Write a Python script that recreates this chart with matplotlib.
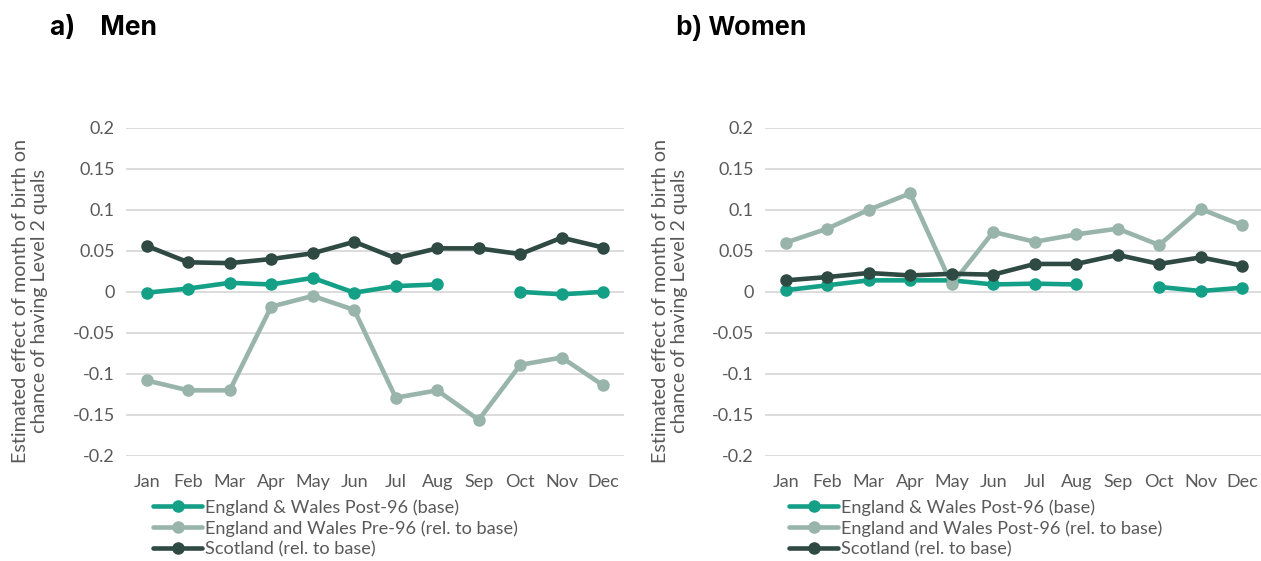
import matplotlib
matplotlib.use("Agg")
import matplotlib.pyplot as plt
import numpy as np

months = ["Jan", "Feb", "Mar", "Apr", "May", "Jun",
          "Jul", "Aug", "Sep", "Oct", "Nov", "Dec"]
yticks = [-0.2, -0.15, -0.1, -0.05, 0, 0.05, 0.1, 0.15, 0.2]
ytick_labels = ["-0.2", "-0.15", "-0.1", "-0.05", "0", "0.05", "0.1", "0.15", "0.2"]

nan = np.nan

# men
men_base = [-0.001, 0.004, 0.011, 0.009, 0.017, -0.001, 0.007, 0.009, nan, 0.0, -0.003, 0.0]
men_pre96 = [-0.108, -0.120, -0.120, -0.018, -0.005, -0.022, -0.129, -0.120, -0.156, -0.089, -0.080, -0.114]
men_scot = [0.056, 0.036, 0.035, 0.040, 0.047, 0.061, 0.041, 0.053, 0.053, 0.046, 0.066, 0.054]

# women
women_base = [0.002, 0.008, 0.014, 0.014, 0.014, 0.009, 0.010, 0.009, nan, 0.006, 0.001, 0.005]
women_post96 = [0.060, 0.077, 0.100, 0.120, 0.009, 0.073, 0.061, 0.070, 0.077, 0.057, 0.101, 0.081]
women_scot = [0.014, 0.018, 0.023, 0.020, 0.022, 0.021, 0.034, 0.034, 0.045, 0.034, 0.042, 0.032]

teal = '#13a087'
light = '#98b4ab'
dark = '#2f4a43'
txt = '#595959'
grid = '#d9d9d9'

plt.rcParams['font.family'] = ['Lato', 'DejaVu Sans']

fig = plt.figure(figsize=(12.61, 5.61), dpi=100)

ylabel = "Estimated effect of month of birth on\nchance of having Level 2 quals"


def panel(rect, series, labels, leg_x, ylab_x):
    ax = fig.add_axes(rect)
    x = np.arange(len(months))
    for vals, col, lab in zip(series, [teal, light, dark], labels):
        ax.plot(x, vals, color=col, lw=3.3, marker='o', markersize=8,
                solid_capstyle='round', label=lab)
    ax.set_xlim(-0.5, len(months) - 0.5)
    ax.set_ylim(-0.2, 0.2)
    ax.set_yticks(yticks)
    ax.set_yticklabels(ytick_labels)
    ax.set_xticks(x)
    ax.set_xticklabels(months)
    ax.tick_params(length=0, labelsize=13, colors=txt)
    ax.tick_params(axis='x', pad=13)
    ax.tick_params(axis='y', pad=8)
    ax.yaxis.grid(True, color=grid, lw=1.3)
    ax.set_axisbelow(True)
    for s in ax.spines.values():
        s.set_visible(False)
    fig.text(ylab_x, (561 - 301) / 561, ylabel, rotation=90, ha='center',
             va='center', multialignment='center', fontsize=14.2,
             color=txt, linespacing=1.1)
    ax.legend(loc='upper left', bbox_to_anchor=(leg_x, (561 - 499) / 561),
              bbox_transform=fig.transFigure, frameon=False, fontsize=13.1,
              handlelength=2.7, handletextpad=0.15, labelspacing=0.26,
              borderpad=0, borderaxespad=0, labelcolor=txt)
    return ax


panel([126 / 1261, 105 / 561, 498 / 1261, 328.3 / 561],
      [men_base, men_pre96, men_scot],
      ["England & Wales Post-96 (base)",
       "England and Wales Pre-96 (rel. to base)",
       "Scotland (rel. to base)"],
      153 / 1261, 30 / 1261)

panel([765 / 1261, 105 / 561, 498 / 1261, 328.3 / 561],
      [women_base, women_post96, women_scot],
      ["England & Wales Post-96 (base)",
       "England and Wales Post-96 (rel. to base)",
       "Scotland (rel. to base)"],
      789 / 1261, 670 / 1261)

fig.text(50 / 1261, (561 - 28) / 561, "a)    Men", fontsize=19, fontweight='bold',
         family=['Inter', 'DejaVu Sans'], va='center', ha='left')
fig.text(676 / 1261, (561 - 28) / 561, "b) Women", fontsize=19.5, fontweight='bold',
         family=['Liberation Sans', 'DejaVu Sans'], va='center', ha='left')

plt.savefig("out.png", dpi=100)
plt.close()
